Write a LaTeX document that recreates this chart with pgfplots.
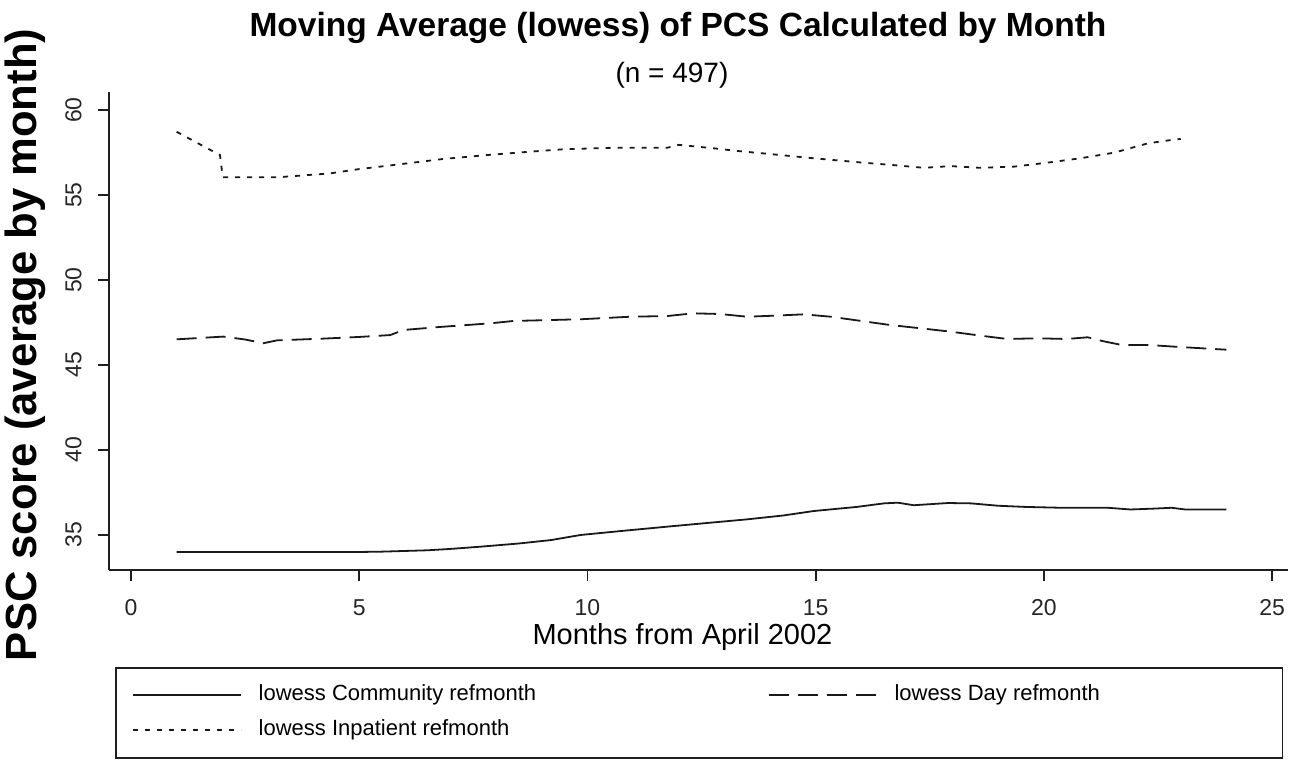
\documentclass[border=0pt]{standalone}
\usepackage{pgfplots}
\pgfplotsset{compat=1.18}
\usepackage{fontspec}
\setmainfont{Liberation Sans}
\begin{document}
\begin{tikzpicture}
\begin{axis}[
  at={(54.5pt,95pt)}, anchor=south west,
  scale only axis, width=589.5pt, height=239pt,
  clip mode=individual,
  xmin=-0.482, xmax=25.35, ymin=32.94, ymax=61.06,
  axis x line*=bottom, axis y line*=left,
  axis line style={line width=0.9pt, black!88},
  tick align=outside,
  xtick={0,5,10,15,20,25}, ytick={35,40,45,50,55,60},
  major tick length=5.5pt,
  tick style={line width=0.9pt, black!88},
  /pgf/number format/assume math mode=true,
  ticklabel style={font=\fontsize{11.5}{13}\selectfont, black!85},
  xticklabel style={inner sep=0pt, yshift=-9pt},
  yticklabel style={rotate=90, anchor=south, inner sep=0pt, yshift=8pt},
  xlabel={Months from April 2002},
  xlabel style={font=\fontsize{14.5}{17}\selectfont, at={(axis description cs:0.4864,-0.155)}, anchor=base},
  ylabel={PSC score (average by month)},
  ylabel style={font=\bfseries\fontsize{21.8}{25}\selectfont, at={(axis description cs:-0.0618,0.471)}, anchor=base, rotate=0},
  title={Moving Average (lowess) of PCS Calculated by Month},
  title style={font=\bfseries\fontsize{16.75}{20}\selectfont, at={(axis description cs:0.4826,1.09)}, anchor=base},
  legend columns=2,
  legend cell align=left,
  legend style={at={(axis description cs:0.0051,-0.2029)}, anchor=north west,
    draw=black!88, line width=0.9pt, inner xsep=8pt, inner ysep=8.5pt, row sep=7pt,
    font=\fontsize{11}{13}\selectfont,
    nodes={inner sep=0pt, text height=8pt, text depth=2.5pt},
    /tikz/every odd column/.append style={column sep=8.5pt}},
  legend image code/.code={\draw[#1, line width=0.9pt] (0pt,0pt) -- (54pt,0pt);},
]
\addplot[black!90, line width=0.9pt] coordinates {
(1,34.0) (2,34.0) (3,34.0) (4,34.0) (5,34.0) (5.5,34.02) (6,34.06) (6.5,34.1)
(7,34.18) (7.65,34.31) (8.5,34.5) (9.2,34.7) (9.85,35.0) (10.8,35.25) (11.75,35.49)
(12.6,35.7) (13.5,35.92) (14.3,36.15) (14.96,36.41) (15.9,36.65) (16.5,36.86)
(16.8,36.9) (17.15,36.75) (17.9,36.88) (18.4,36.86) (19.0,36.72) (19.6,36.65)
(20.4,36.6) (21.4,36.6) (21.9,36.5) (22.4,36.55) (22.8,36.6) (23.1,36.5) (24,36.5)
};
\addlegendentry{\makebox[254.5pt][l]{lowess Community refmonth}}
\addplot[black!90, line width=0.9pt, dash pattern=on 10pt off 4.5pt] coordinates {
(1,46.51) (2.02,46.67) (2.5,46.5) (2.9,46.28) (3.2,46.45) (4.2,46.55) (5.0,46.65)
(5.68,46.76) (5.97,47.06) (6.78,47.24) (7.87,47.45) (8.38,47.59) (9.85,47.69)
(10.94,47.84) (11.75,47.88) (12.32,48.04) (12.9,48.0) (13.5,47.84) (14.08,47.9)
(14.74,47.98) (15.33,47.84) (16.0,47.59) (16.64,47.35) (17.3,47.16) (17.96,46.96)
(18.6,46.73) (19.2,46.53) (19.87,46.57) (20.5,46.53) (20.96,46.63) (21.3,46.4)
(21.7,46.18) (22.28,46.18) (22.85,46.08) (23.73,45.94) (24,45.9)
};
\addlegendentry{\makebox[186pt][l]{lowess Day refmonth}}
\addplot[black!90, line width=0.9pt, dash pattern=on 2.5pt off 3.5pt] coordinates {
(1,58.72) (1.67,57.75) (1.95,57.35) (2.01,56.04) (3.2,56.04) (4.36,56.27)
(4.96,56.51) (6.05,56.86) (6.84,57.12) (7.8,57.35) (8.75,57.55) (9.47,57.69)
(10.57,57.78) (11.75,57.78) (12.0,57.95) (12.76,57.75) (13.29,57.59) (14.0,57.41)
(14.96,57.16) (16.05,56.9) (16.7,56.76) (17.37,56.6) (17.96,56.7) (18.6,56.6)
(19.35,56.67) (20.07,56.9) (20.8,57.16) (21.54,57.49) (22.28,58.04) (22.8,58.24) (23,58.3)
};
\addlegendentry{lowess Inpatient refmonth}
\node[font=\fontsize{14}{17}\selectfont, anchor=base] at (axis description cs:0.4775,1.02) {(n = 497)};
\end{axis}
\pgfresetboundingbox
\path[use as bounding box] (0,0) rectangle (645pt,380pt);
\end{tikzpicture}
\end{document}
